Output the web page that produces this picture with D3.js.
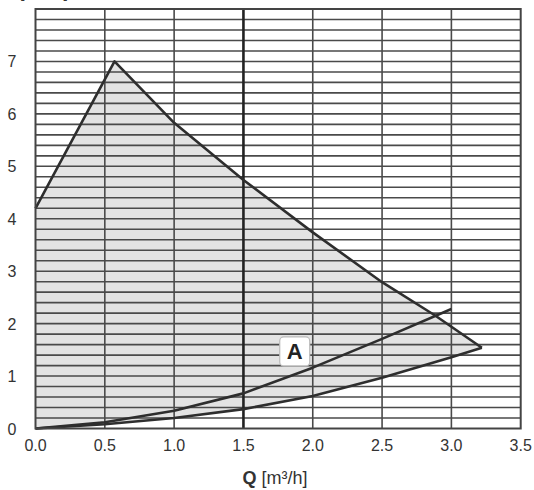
<!DOCTYPE html>
<html>
<head>
<meta charset="utf-8">
<script src="https://cdn.jsdelivr.net/npm/d3@7"></script>
<style>
  body { margin: 0; background: #fff; }
  svg { display: block; font-family: "Liberation Sans", Arial, sans-serif; }
</style>
</head>
<body>
<div id="chart"></div>
<script>
// pump curve chart, H over Q
var xTicks = [0, 0.5, 1.0, 1.5, 2.0, 2.5, 3.0, 3.5];
var yTicks = [0, 1, 2, 3, 4, 5, 6, 7];
// max curve (top edge of shaded field)
var maxQ = [0, 0.57, 1.0, 1.5, 2.0, 2.5, 2.88, 3.22];
var maxH = [4.2, 7.0, 5.83, 4.74, 3.74, 2.79, 2.16, 1.54];
// min curve (bottom edge of shaded field)
var minQ = [0, 0.5, 1.0, 1.5, 2.0, 2.5, 3.0, 3.22];
var minH = [0, 0.08, 0.2, 0.37, 0.62, 0.97, 1.36, 1.54];
// system curve A
var aQ = [0, 0.5, 1.0, 1.5, 2.0, 2.5, 3.0];
var aH = [0, 0.12, 0.34, 0.67, 1.16, 1.71, 2.28];
var aLabel = {q: 1.87, h: 1.48, text: "A"};

(function () {
    "use strict";
    var W = 534, H = 490;
    var m = {left: 35.5, top: 9, right: 13.3, bottom: 61.5};
    var w = W - m.left - m.right, h = H - m.top - m.bottom;

    var svg = d3.select('#chart').append('svg').attr('width', W).attr('height', H);
    var g = svg.append('g').attr('transform', 'translate(' + m.left + ',' + m.top + ')');

    var x = d3.scaleLinear().domain([0, 3.5]).range([0, w]);
    var y = d3.scaleLinear().domain([0, 8]).range([h, 0]);

    // shaded working field
    var field = maxQ.map(function (q, i) { return [q, maxH[i]]; });
    var lower = minQ.map(function (q, i) { return [q, minH[i]]; }).reverse();
    field = [[0, 0]].concat(field, lower);
    g.append('path')
        .attr('d', d3.line().x(function (d) { return x(d[0]); }).y(function (d) { return y(d[1]); })(field) + 'Z')
        .attr('fill', '#e3e3e3');

    // horizontal grid, every 0.2
    var hLines = d3.range(1, 40).map(function (i) { return i * 0.2; });
    g.selectAll('line.hg').data(hLines).enter().append('line')
        .attr('class', 'hg')
        .attr('x1', 0).attr('x2', w)
        .attr('y1', function (d) { return y(d); }).attr('y2', function (d) { return y(d); })
        .attr('stroke', '#4a4a4a').attr('stroke-width', 1.6);

    // vertical grid
    g.selectAll('line.vg').data(xTicks.slice(1, -1)).enter().append('line')
        .attr('class', 'vg')
        .attr('y1', 0).attr('y2', h)
        .attr('x1', function (d) { return x(d); }).attr('x2', function (d) { return x(d); })
        .attr('stroke', function (d) { return d === 1.5 ? '#222' : '#4a4a4a'; })
        .attr('stroke-width', function (d) { return d === 1.5 ? 2.6 : 1.6; });

    // curves
    var line = d3.line().x(function (d) { return x(d[0]); }).y(function (d) { return y(d[1]); });
    var curves = [
        maxQ.map(function (q, i) { return [q, maxH[i]]; }),
        minQ.map(function (q, i) { return [q, minH[i]]; }),
        aQ.map(function (q, i) { return [q, aH[i]]; })
    ];
    g.selectAll('path.curve').data(curves).enter().append('path')
        .attr('class', 'curve')
        .attr('d', function (d) { return line(d); })
        .attr('fill', 'none').attr('stroke', '#2e2e2e').attr('stroke-width', 2.6)
        .attr('stroke-linejoin', 'round');

    // frame
    g.append('rect').attr('width', w).attr('height', h)
        .attr('fill', 'none').attr('stroke', '#444').attr('stroke-width', 2);

    // label A
    var lx = x(aLabel.q), ly = y(aLabel.h);
    g.append('rect').attr('x', lx - 15).attr('y', ly - 14).attr('width', 30).attr('height', 29)
        .attr('rx', 4).attr('fill', '#fff').attr('stroke', '#bbb').attr('stroke-width', 1.2);
    g.append('text').attr('x', lx).attr('y', ly + 8).attr('text-anchor', 'middle')
        .attr('font-size', 22).attr('font-weight', 'bold').attr('fill', '#222').text(aLabel.text);

    // tick labels
    svg.selectAll('text.yt').data(yTicks).enter().append('text')
        .attr('class', 'yt')
        .attr('x', 12).attr('y', function (d) { return m.top + y(d) + 6; })
        .attr('text-anchor', 'middle').attr('font-size', 16).attr('fill', '#333')
        .text(function (d) { return d; });
    svg.selectAll('text.xt').data(xTicks).enter().append('text')
        .attr('class', 'xt')
        .attr('x', function (d) { return m.left + x(d); }).attr('y', m.top + h + 22)
        .attr('text-anchor', 'middle').attr('font-size', 16).attr('fill', '#333')
        .text(function (d) { return d.toFixed(1); });

    // axis titles
    var xt = svg.append('text').attr('x', 275).attr('y', 484)
        .attr('text-anchor', 'middle').attr('font-size', 18).attr('fill', '#333');
    xt.append('tspan').attr('font-weight', 'bold').text('Q');
    xt.append('tspan').text(' [m³/h]');
    svg.append('text').attr('x', 4).attr('y', -2).attr('font-size', 16).attr('fill', '#333')
        .text('H [mWS]');
}());
</script>
</body>
</html>
